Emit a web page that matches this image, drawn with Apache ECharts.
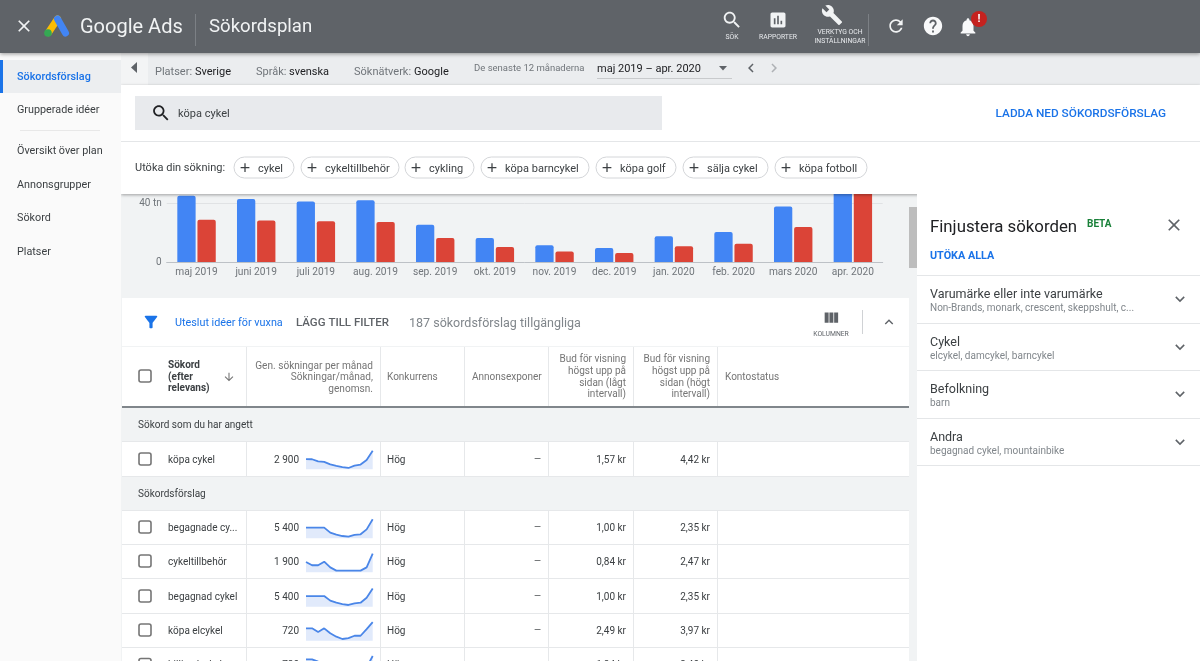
<!DOCTYPE html>
<html>
<head>
<meta charset="utf-8">
<style>
  html, body { margin: 0; padding: 0; background: #fff; overflow: hidden; }
  #chart { width: 1200px; height: 661px; }
</style>
<script src="https://cdn.jsdelivr.net/npm/echarts@6/dist/echarts.min.js"></script>
</head>
<body>
<div id="chart"></div>
<script>
const BLUE = '#4285f4';
const RED = '#db4437';
const LINK = '#1a73e8';
const FONT = 'Roboto, sans-serif';

// månadsvolymer i tusental (tn)
const MONTHS = ['maj 2019', 'juni 2019', 'juli 2019', 'aug. 2019', 'sep. 2019', 'okt. 2019',
  'nov. 2019', 'dec. 2019', 'jan. 2020', 'feb. 2020', 'mars 2020', 'apr. 2020'];
const VOLUME = [45, 42.7, 41, 41.8, 25.3, 16.3, 11.3, 9.5, 17.4, 20.3, 37.7, 60];
const MOBILE = [28.7, 28.2, 27.6, 27.1, 16.3, 10.2, 7.2, 6.1, 10.6, 12.4, 23.7, 52];

// tabellrader, trend = index 0-100 avläst ur miniatyrgrafen
const ROWS = [
  { y: 459, top: 442, bottom: 476, sparkTop: 450.3, name: 'köpa cykel', avg: '2 900', low: '1,57 kr', high: '4,42 kr',
    trend: [54, 53, 42, 39, 26, 18, 12, 7, 19, 25, 49, 98] },
  { y: 527, top: 511, bottom: 544, sparkTop: 519.3, name: 'begagnade cy...', avg: '5 400', low: '1,00 kr', high: '2,35 kr',
    trend: [56, 56, 56, 56, 30, 19, 12, 9, 18, 21, 47, 100] },
  { y: 561, top: 545, bottom: 578, sparkTop: 553.3, name: 'cykeltillbehör', avg: '1 900', low: '0,84 kr', high: '2,47 kr',
    trend: [54, 37, 37, 56, 26, 9, 9, 9, 9, 9, 26, 98] },
  { y: 596, top: 579, bottom: 613, sparkTop: 587.7, name: 'begagnad cykel', avg: '5 400', low: '1,00 kr', high: '2,35 kr',
    trend: [56, 56, 56, 56, 32, 21, 14, 9, 18, 21, 47, 96] },
  { y: 630, top: 614, bottom: 647, sparkTop: 621.7, name: 'köpa elcykel', avg: '720', low: '2,49 kr', high: '3,97 kr',
    trend: [65, 65, 46, 65, 39, 21, 9, 14, 26, 26, 61, 98] },
  { y: 664.5, top: 648, bottom: 682, sparkTop: 656, name: 'billig elcykel', avg: '720', low: '1,84 kr', high: '3,40 kr',
    trend: [82, 82, 70, 40, 20, 10, 10, 10, 15, 20, 40, 100] }
];

const CHIPS = [
  ['cykel', 234, 294], ['cykeltillbehör', 301, 399], ['cykling', 405, 474],
  ['köpa barncykel', 481, 589], ['köpa golf', 596, 676], ['sälja cykel', 683, 768],
  ['köpa fotboll', 775, 867]
];

const NAV = [
  ['Sökordsförslag', 76], ['Grupperade idéer', 109], ['Översikt över plan', 150],
  ['Annonsgrupper', 184], ['Sökord', 217], ['Platser', 251]
];

const REFINE = [
  ['Varumärke eller inte varumärke', 'Non-Brands, monark, crescent, skeppshult, c...', 293],
  ['Cykel', 'elcykel, damcykel, barncykel', 341],
  ['Befolkning', 'barn', 388],
  ['Andra', 'begagnad cykel, mountainbike', 436]
];

const ICON = {
  search: 'M15.5 14h-.79l-.28-.27C15.41 12.59 16 11.11 16 9.5 16 5.91 13.09 3 9.5 3S3 5.91 3 9.5 5.91 16 9.5 16c1.61 0 3.09-.59 4.23-1.57l.27.28v.79l5 4.99L20.49 19l-4.99-5zm-6 0C7.01 14 5 11.99 5 9.5S7.01 5 9.5 5 14 7.01 14 9.5 11.99 14 9.5 14z',
  close: 'M19 6.41L17.59 5 12 10.59 6.41 5 5 6.41 10.59 12 5 17.59 6.41 19 12 13.41 17.59 19 19 17.59 13.41 12z',
  wrench: 'M22.7 19l-9.1-9.1c.9-2.3.4-5-1.5-6.9-2-2-5-2.4-7.4-1.3L9 6 6 9 1.6 4.7C.4 7.1.9 10.1 2.9 12.1c1.9 1.9 4.6 2.4 6.9 1.5l9.1 9.1c.4.4 1 .4 1.4 0l2.3-2.3c.5-.4.5-1.1.1-1.4z',
  refresh: 'M17.65 6.35C16.2 4.9 14.21 4 12 4c-4.42 0-7.99 3.58-7.99 8s3.57 8 7.99 8c3.73 0 6.84-2.55 7.73-6h-2.08c-.82 2.33-3.04 4-5.65 4-3.31 0-6-2.69-6-6s2.69-6 6-6c1.66 0 3.14.69 4.22 1.78L13 11h7V4l-2.35 2.35z',
  help: 'M12 2C6.48 2 2 6.48 2 12s4.48 10 10 10 10-4.48 10-10S17.52 2 12 2zm1 17h-2v-2h2v2zm2.07-7.75l-.9.92C13.45 12.9 13 13.5 13 15h-2v-.5c0-1.1.45-2.1 1.17-2.83l1.24-1.26c.37-.36.59-.86.59-1.41 0-1.1-.9-2-2-2s-2 .9-2 2H8c0-2.21 1.79-4 4-4s4 1.79 4 4c0 .88-.36 1.68-.93 2.25z',
  bell: 'M12 22c1.1 0 2-.9 2-2h-4c0 1.1.89 2 2 2zm6-6v-5c0-3.07-1.64-5.64-4.5-6.32V4c0-.83-.67-1.5-1.5-1.5s-1.5.67-1.5 1.5v.68C7.63 5.36 6 7.92 6 11v5l-2 2v1h16v-1l-2-2z',
  report: 'M19 3H5c-1.1 0-2 .9-2 2v14c0 1.1.9 2 2 2h14c1.1 0 2-.9 2-2V5c0-1.1-.9-2-2-2zM9 17H7v-7h2v7zm4 0h-2V7h2v10zm4 0h-2v-4h2v4z',
  filter: 'M4.25 5.61C6.27 8.2 10 13 10 13v6c0 .55.45 1 1 1h2c.55 0 1-.45 1-1v-6s3.72-4.8 5.74-7.39c.51-.66.04-1.61-.79-1.61H5.04c-.83 0-1.3.95-.79 1.61z',
  columns: 'M10 18h5V5h-5v13zm-6 0h5V5H4v13zM16 5v13h5V5h-5z',
  more: 'M16.59 8.59L12 13.17 7.41 8.59 6 10l6 6 6-6z',
  less: 'M12 8l-6 6 1.41 1.41L12 10.83l4.59 4.58L18 14z',
  down: 'M20 12l-1.41-1.41L13 16.17V4h-2v12.17l-5.58-5.59L4 12l8 8 8-8z',
  add: 'M19 13h-6v6h-2v-6H5v-2h6V5h2v6h6v2z',
  left: 'M15.41 7.41L14 6l-6 6 6 6 1.41-1.41L10.83 12z',
  right: 'M10 6L8.59 7.41 13.17 12l-4.58 4.59L10 18l6-6z'
};

// graphic saknar path-typ, ikonerna registreras som egna former (24x24)
Object.keys(ICON).forEach((name) => {
  echarts.graphic.registerShape('icon_' + name, echarts.graphic.extendPath(ICON[name], {}));
});

// z under serierna = bakgrund, över = paneler som täcker stapeldiagrammet
const Z_BACK = -1;
const Z_TOP = 100;

const rect = (x, y, w, h, fill, z = Z_BACK, extra = {}) => ({
  type: 'rect', z, silent: true, shape: { x, y, width: w, height: h, r: extra.r || 0 },
  style: { fill, stroke: extra.stroke, lineWidth: extra.lineWidth,
    shadowBlur: extra.blur || 0, shadowColor: extra.shadow, shadowOffsetY: extra.offsetY || 0 }
});
const hline = (x1, x2, y, color = '#e6e8ea', z = Z_BACK) => rect(x1, y, x2 - x1, 1, color, z);
const vline = (x, y1, y2, color = '#e6e8ea', z = Z_BACK) => rect(x, y1, 1, y2 - y1, color, z);
const text = (x, y, str, size, color, opt = {}) => ({
  type: 'text', z: opt.z === undefined ? Z_BACK : opt.z, silent: true,
  style: { x, y: y + 1.5, text: str, fill: color, textAlign: opt.align || 'left', textVerticalAlign: 'middle',
    font: `${opt.weight || 400} ${size}px ${FONT}` }
});
const icon = (name, cx, cy, size, color, z = Z_BACK) => ({
  type: 'icon_' + name, z, silent: true,
  x: cx - size / 2, y: cy - size / 2, scaleX: size / 24, scaleY: size / 24,
  style: { fill: color }
});
const checkbox = (cx, cy) => rect(cx - 6, cy - 6, 12, 12, '#fff', Z_BACK, { r: 2, stroke: '#757575', lineWidth: 1.6 });

function chromeTop() {
  const Z = Z_TOP;
  const T = { z: Z };
  const items = [
    // filterrad
    rect(121, 53, 1079, 32, '#ebedef', Z),
    rect(121, 53, 27, 32, '#f3f4f5', Z),
    { type: 'polygon', z: Z, silent: true, shape: { points: [[137, 62], [137, 73], [131, 67.5]] }, style: { fill: '#5f6368' } },
    text(155, 71, 'Platser:', 11, '#70757a', T), text(195, 71, 'Sverige', 11, '#202124', T),
    text(256, 71, 'Språk:', 11, '#70757a', T), text(289, 71, 'svenska', 11, '#202124', T),
    text(354, 71, 'Söknätverk:', 11, '#70757a', T), text(414, 71, 'Google', 11, '#202124', T),
    text(474, 67.5, 'De senaste 12 månaderna', 9.5, '#70757a', T),
    text(597, 67.5, 'maj 2019 – apr. 2020', 11, '#202124', T),
    hline(597, 732, 78, '#c8cacc', Z),
    { type: 'polygon', z: Z, silent: true, shape: { points: [[719, 66], [727, 66], [723, 70.5]] }, style: { fill: '#5f6368' } },
    icon('left', 751, 68, 18, '#5f6368', Z),
    icon('right', 774, 68, 18, '#aeb1b5', Z),
    // sökpanel
    rect(121, 85, 1079, 109, '#fff', Z, { blur: 3, shadow: 'rgba(0,0,0,.35)', offsetY: 1 }),
    rect(135, 96, 527, 34, '#e8eaed', Z),
    icon('search', 161, 113, 21, '#202124', Z),
    text(178, 113, 'köpa cykel', 11, '#3c4043', T),
    text(1166, 113, 'LADDA NED SÖKORDSFÖRSLAG', 11.8, LINK, { z: Z, align: 'right', weight: 500 }),
    hline(121, 1200, 141, '#e4e6e8', Z),
    text(135, 167, 'Utöka din sökning:', 11, '#3c4043', T),
    // vänstermeny
    rect(0, 53, 121, 608, '#fafafa', Z),
    rect(0, 60, 121, 33, '#eceef0', Z),
    rect(0, 60, 3, 33, LINK, Z),
    hline(20, 100, 130, '#e8e8e8', Z),
    // högerpanel
    rect(917, 194, 283, 467, '#fff', Z),
    text(930, 226.5, 'Finjustera sökorden', 16.8, '#202124', T),
    text(1087, 223, 'BETA', 10, '#188038', { z: Z, weight: 700 }),
    icon('close', 1174, 225, 20, '#5f6368', Z),
    text(930, 255, 'UTÖKA ALLA', 10.8, LINK, { z: Z, weight: 700 }),
    // sidhuvud
    rect(0, 0, 1200, 53, '#5f6368', Z, { blur: 4, shadow: 'rgba(0,0,0,.4)', offsetY: 1 }),
    icon('close', 24, 26, 20, '#f1f3f4', Z),
    { type: 'line', z: Z, silent: true, shape: { x1: 57.5, y1: 19, x2: 48.5, y2: 32.5 }, style: { stroke: '#fbbc04', lineWidth: 7, lineCap: 'round' } },
    { type: 'line', z: Z, silent: true, shape: { x1: 57.5, y1: 19, x2: 65.5, y2: 33 }, style: { stroke: BLUE, lineWidth: 7, lineCap: 'round' } },
    { type: 'circle', z: Z, silent: true, shape: { cx: 48, cy: 33, r: 3.8 }, style: { fill: '#34a853' } },
    text(80, 26, 'Google Ads', 20, '#f1f3f4', T),
    vline(195, 14, 46, '#7c8085', Z),
    text(209, 26, 'Sökordsplan', 18.6, '#f1f3f4', T),
    icon('search', 732, 20, 22, '#f1f3f4', Z),
    text(732, 35.5, 'SÖK', 6.8, '#e8eaed', { z: Z, align: 'center' }),
    icon('report', 778, 20, 20, '#f1f3f4', Z),
    text(778, 35.5, 'RAPPORTER', 6.8, '#e8eaed', { z: Z, align: 'center' }),
    icon('wrench', 832, 15, 22, '#f1f3f4', Z),
    text(840, 31, 'VERKTYG OCH', 6.8, '#e8eaed', { z: Z, align: 'center' }),
    text(840, 39.5, 'INSTÄLLNINGAR', 6.8, '#e8eaed', { z: Z, align: 'center' }),
    vline(868, 14, 46, '#7c8085', Z),
    icon('refresh', 896, 26, 20, '#f1f3f4', Z),
    icon('help', 933, 26, 22, '#f8f9fa', Z),
    icon('bell', 968, 27, 22, '#f8f9fa', Z),
    { type: 'circle', z: Z, silent: true, shape: { cx: 979, cy: 19, r: 8 }, style: { fill: '#c5221f' } },
    text(979, 18, '!', 11, '#fff', { z: Z, align: 'center', weight: 700 })
  ];
  NAV.forEach(([label, y], i) => items.push(text(17, y - 0.5, label, 10.8, i === 0 ? LINK : '#3c4043', { z: Z, weight: i === 0 ? 500 : 400 })));
  CHIPS.forEach(([label, x1, x2]) => {
    items.push(rect(x1, 157, x2 - x1, 21, '#fff', Z, { r: 10.5, stroke: '#d4d6d9', lineWidth: 1 }));
    items.push(icon('add', x1 + 11, 167.5, 15, '#3c4043', Z));
    items.push(text(x1 + 24, 167.5, label, 11, '#3c4043', T));
  });
  REFINE.forEach(([title, sub, y]) => {
    items.push(hline(917, 1200, y - 18, '#e4e6e8', Z));
    items.push(text(930, y, title, 12.5, '#3c4043', T));
    items.push(text(930, y + 13.5, sub, 10, '#80868b', T));
    items.push(icon('more', 1180, y + 6, 19, '#5f6368', Z));
  });
  items.push(hline(917, 1200, 465, '#e4e6e8', Z));
  return items;
}

function tableBack() {
  const COLS = [246, 380, 464, 548, 633, 717];
  const items = [
    rect(121, 194, 796, 467, '#f1f3f4'),
    rect(909, 207, 8, 61, '#bdbdbd'),
    // filterfält
    rect(122, 298, 787, 48, '#fff'),
    icon('filter', 151, 322, 19, LINK),
    text(175, 321.5, 'Uteslut idéer för vuxna', 10.8, LINK),
    text(296, 322, 'LÄGG TILL FILTER', 11.5, '#5f6368', { weight: 500 }),
    text(409, 322, '187 sökordsförslag tillgängliga', 12.5, '#80868b'),
    icon('columns', 831, 318, 19, '#5f6368'),
    text(831, 333, 'KOLUMNER', 6.8, '#5f6368', { align: 'center' }),
    vline(862, 310, 334, '#d0d2d5'),
    icon('less', 889, 322, 17, '#5f6368'),
    // kolumnrubriker
    rect(122, 347, 787, 60, '#fff'),
    rect(122, 406, 787, 2, '#80868b'),
    checkbox(145, 376),
    text(168, 364, 'Sökord', 10, '#3c4043', { weight: 700 }),
    text(168, 375.5, '(efter', 10, '#3c4043', { weight: 700 }),
    text(168, 387, 'relevans)', 10, '#3c4043', { weight: 700 }),
    icon('down', 229, 377, 13, '#757575'),
    text(373, 364.5, 'Gen. sökningar per månad', 10.1, '#757575', { align: 'right' }),
    text(373, 376, 'Sökningar/månad,', 10.1, '#757575', { align: 'right' }),
    text(373, 387.5, 'genomsn.', 10.1, '#757575', { align: 'right' }),
    text(387, 375.5, 'Konkurrens', 10, '#757575'),
    text(472, 375.5, 'Annonsexponer', 10, '#757575'),
    text(725, 375.5, 'Kontostatus', 10, '#757575')
  ];
  [['Bud för visning', 358], ['högst upp på', 369.5], ['sidan (lågt', 381.5], ['intervall)', 393]].forEach(([s, y]) => {
    items.push(text(626, y, s, 10, '#757575', { align: 'right' }));
  });
  [['Bud för visning', 358], ['högst upp på', 369.5], ['sidan (högt', 381.5], ['intervall)', 393]].forEach(([s, y]) => {
    items.push(text(710, y, s, 10, '#757575', { align: 'right' }));
  });
  COLS.forEach((x) => items.push(vline(x, 347, 406)));

  items.push(text(138, 424, 'Sökord som du har angett', 10, '#3c4043'));
  items.push(text(138, 493, 'Sökordsförslag', 10, '#3c4043'));
  // radbakgrunder först så att linjerna hamnar ovanpå
  ROWS.forEach((r) => items.push(rect(122, r.top, 787, r.bottom - r.top, '#fff')));
  ROWS.forEach((r) => {
    items.push(hline(122, 909, r.top - 1));
    items.push(hline(122, 909, r.bottom));
    COLS.forEach((x) => items.push(vline(x, r.top, r.bottom)));
    items.push(checkbox(145, r.y));
    items.push(text(168, r.y - 0.5, r.name, 10, '#3c4043'));
    items.push(text(299, r.y - 0.5, r.avg, 10, '#3c4043', { align: 'right' }));
    items.push(text(387, r.y - 0.5, 'Hög', 10, '#3c4043'));
    items.push(text(541, r.y - 0.5, '—', 9, '#3c4043', { align: 'right' }));
    items.push(text(626, r.y - 0.5, r.low, 10, '#3c4043', { align: 'right' }));
    items.push(text(710, r.y - 0.5, r.high, 10, '#3c4043', { align: 'right' }));
  });
  return items;
}

const grid = [{ left: 166.7, width: 716, top: 144, height: 118, outerBoundsMode: 'none' }];
const xAxis = [{
  type: 'category', gridIndex: 0, data: MONTHS,
  axisTick: { show: false },
  axisLine: { lineStyle: { color: '#bdc1c6' } },
  axisLabel: { color: '#70757a', fontSize: 10.2, fontFamily: FONT, margin: 5, interval: 0 }
}];
const yAxis = [{
  type: 'value', gridIndex: 0, min: 0, max: 80, interval: 40,
  axisLine: { show: false }, axisTick: { show: false },
  axisLabel: { color: '#70757a', fontSize: 10, fontFamily: FONT, margin: 5, formatter: (v) => (v ? v + ' tn' : '0') },
  splitLine: { lineStyle: { color: '#e0e2e4' } }
}];
const series = [
  { type: 'bar', name: 'Sökningar', data: VOLUME, barWidth: 18.3, barGap: '10%', itemStyle: { color: BLUE, borderRadius: [2, 2, 0, 0] } },
  { type: 'bar', name: 'Mobil', data: MOBILE, barWidth: 18.3, barGap: '10%', itemStyle: { color: RED, borderRadius: [2, 2, 0, 0] } }
];

// en miniatyrgraf per tabellrad
ROWS.forEach((r, i) => {
  const idx = i + 1;
  grid.push({ left: 306, width: 66.7, top: r.sparkTop, height: 19, outerBoundsMode: 'none' });
  xAxis.push({ type: 'category', gridIndex: idx, show: false, boundaryGap: false, data: MONTHS });
  yAxis.push({ type: 'value', gridIndex: idx, show: false, min: 0, max: 100 });
  series.push({
    type: 'line', xAxisIndex: idx, yAxisIndex: idx, data: r.trend, symbol: 'none', clip: false,
    lineStyle: { color: '#4a86e8', width: 1.8 }, areaStyle: { color: '#e1eafb', opacity: 1 }
  });
});

const chart = echarts.init(document.getElementById('chart'), null, { renderer: 'canvas' });
chart.setOption({
  animation: false,
  backgroundColor: '#fff',
  textStyle: { fontFamily: FONT },
  grid, xAxis, yAxis, series,
  graphic: { elements: [...tableBack(), ...chromeTop()] }
});
</script>
</body>
</html>
